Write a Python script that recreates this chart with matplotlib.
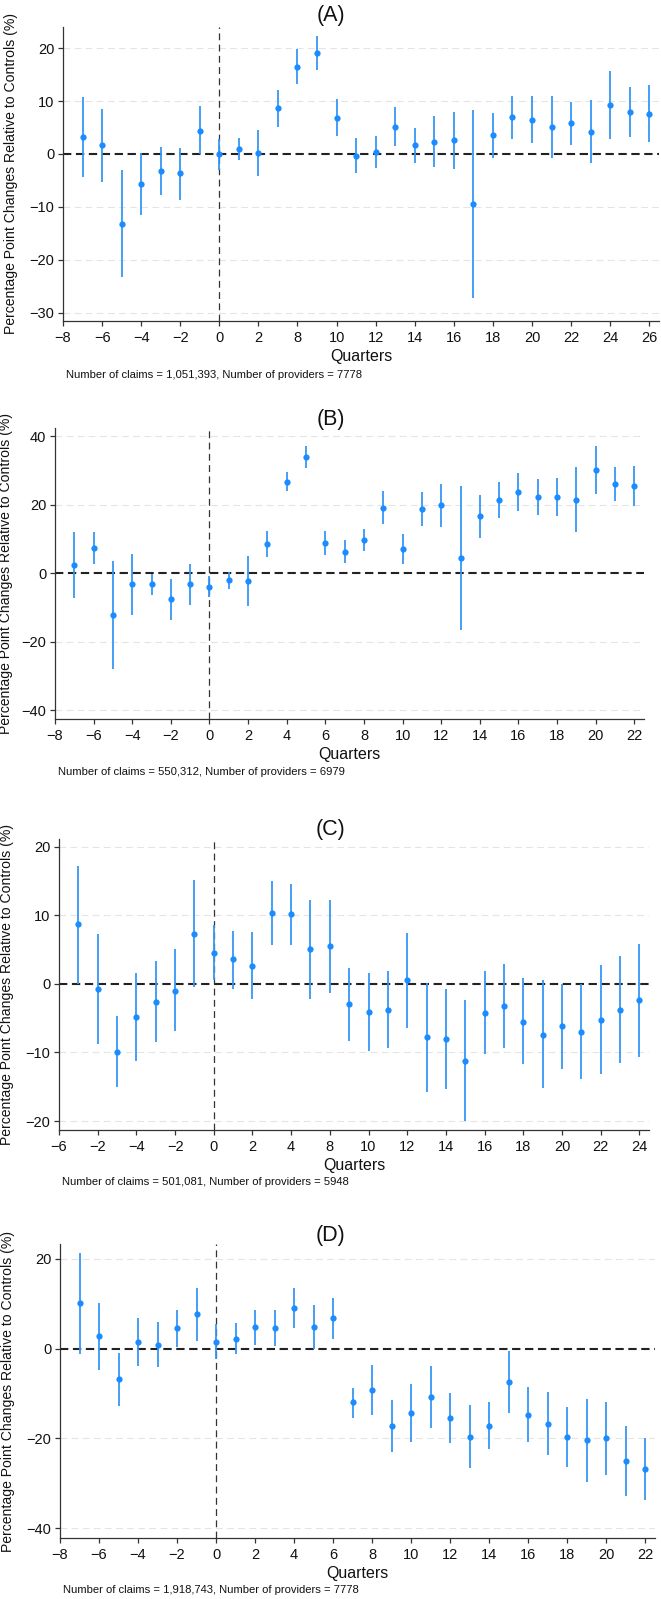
"""
Event-study coefficients, four panels (A)-(D)
=============================================
Point estimates with 95% CIs by quarter relative to treatment.
Output: out.png (661 x 1599)
"""
import numpy as np
import matplotlib.pyplot as plt

plt.rcParams["font.family"] = ["Liberation Sans", "DejaVu Sans"]

# ---------------------------------------------------------------------
# data
QUARTERS = list(range(-7, 23))

A_EST = [3.2, 1.6, -13.2, -5.6, -3.2, -3.7, 4.4, 0.0, 0.9, 0.1, 8.6, 16.5, 19.1,
         6.8, -0.4, 0.4, 5.1, 1.6, 2.3, 2.6, -9.5, 3.5, 6.9, 6.5, 5.1, 5.8,
         4.2, 9.2, 7.9, 7.6]
A_HI = [10.8, 8.4, -3.1, 0.2, 1.3, 1.1, 9.1, 2.9, 3.1, 4.6, 12.1, 19.8, 22.3,
        10.4, 3.0, 3.4, 8.8, 4.9, 7.2, 7.9, 8.3, 7.8, 11.0, 10.9, 10.9, 9.9,
        10.2, 15.6, 12.6, 13.0]
A_LO = [-4.4, -5.3, -23.2, -11.5, -7.8, -8.7, -0.1, -3.1, -1.2, -4.2, 5.1, 13.2,
        15.9, 3.3, -3.7, -2.7, 1.5, -1.7, -2.5, -2.8, -27.2, -0.7, 2.8, 2.1,
        -0.8, 1.6, -1.8, 2.8, 3.2, 2.2]

B_EST = [2.3, 7.3, -12.3, -3.3, -3.3, -7.6, -3.2, -3.9, -2.1, -2.3, 8.6, 26.7,
         34.0, 8.8, 6.3, 9.7, 19.1, 7.0, 18.7, 19.8, 4.5, 16.6, 21.4, 23.7,
         22.3, 22.3, 21.4, 30.1, 26.1, 25.4]
B_HI = [12.1, 12.0, 3.5, 5.6, -0.3, -1.7, 2.7, -0.7, 0.4, 5.0, 12.4, 29.5, 37.1,
        12.4, 9.6, 12.9, 23.9, 11.4, 23.7, 26.1, 25.6, 22.9, 26.6, 29.2, 27.5,
        27.9, 30.9, 37.0, 31.1, 31.2]
B_LO = [-7.4, 2.6, -28.0, -12.2, -6.3, -13.6, -9.2, -7.1, -4.6, -9.6, 4.8, 23.9,
        30.8, 5.2, 2.9, 6.5, 14.3, 2.6, 13.7, 13.6, -16.5, 10.3, 16.2, 18.1,
        17.1, 16.6, 11.9, 23.2, 21.0, 19.6]

C_EST = [8.7, -0.8, -9.9, -4.9, -2.6, -1.0, 7.3, 4.5, 3.6, 2.6, 10.3, 10.1, 5.0,
         5.5, -3.0, -4.1, -3.8, 0.5, -7.8, -8.1, -11.2, -4.2, -3.3, -5.5, -7.4,
         -6.2, -7.0, -5.3, -3.8, -2.4]
C_HI = [17.2, 7.3, -4.7, 1.6, 3.3, 5.0, 15.1, 8.6, 7.7, 7.5, 15.0, 14.6, 12.2,
        12.2, 2.3, 1.6, 1.9, 7.4, 0.1, -0.8, -2.4, 1.8, 2.9, 0.8, 0.5, 0.0,
        -0.0, 2.7, 4.0, 5.8]
C_LO = [0.0, -8.8, -15.1, -11.3, -8.5, -6.9, -0.5, 0.5, -0.7, -2.2, 5.6, 5.6,
        -2.2, -1.3, -8.3, -9.8, -9.4, -6.4, -15.8, -15.3, -20.0, -10.2, -9.4,
        -11.7, -15.2, -12.4, -13.8, -13.2, -11.5, -10.6]

D_EST = [10.1, 2.7, -6.8, 1.5, 0.8, 4.5, 7.6, 1.5, 2.2, 4.7, 4.6, 9.0, 4.7, 6.8,
         -12.0, -9.2, -17.2, -14.3, -10.7, -15.5, -19.6, -17.2, -7.4, -14.7,
         -16.7, -19.6, -20.4, -20.0, -25.1, -26.8]
D_HI = [21.3, 10.1, -0.9, 6.9, 5.9, 8.6, 13.6, 5.4, 5.7, 8.7, 8.6, 13.5, 9.6,
        11.3, -8.8, -3.6, -11.4, -7.8, -3.9, -9.9, -12.6, -12.0, -0.6, -8.6,
        -9.7, -13.0, -11.2, -11.9, -17.2, -19.9]
D_LO = [-1.2, -4.8, -12.7, -3.9, -4.2, 0.4, 1.6, -2.4, -1.2, 0.7, 0.6, 4.5,
        -0.1, 2.2, -15.4, -14.9, -23.1, -20.9, -17.6, -21.0, -26.5, -22.3,
        -14.3, -20.9, -23.6, -26.3, -29.7, -28.2, -32.9, -33.7]

XTICKS = list(range(-8, 23, 2))
# tick labels exactly as printed on the original panels
A_XTICKLABELS = ["−8", "−6", "−4", "−2", "0", "2", "8", "10", "12", "14", "16",
                 "18", "20", "22", "24", "26"]
B_XTICKLABELS = ["−8", "−6", "−4", "−2", "0", "2", "4", "6", "8", "10", "12",
                 "14", "16", "18", "20", "22"]
C_XTICKLABELS = ["−6", "−2", "−4", "−2", "0", "2", "4", "8", "10", "12", "14",
                 "16", "18", "20", "22", "24"]
D_XTICKLABELS = B_XTICKLABELS

TITLES = ["(A)", "(B)", "(C)", "(D)"]
NOTES = ["Number of claims = 1,051,393, Number of providers = 7778",
         "Number of claims = 550,312, Number of providers = 6979",
         "Number of claims = 501,081, Number of providers = 5948",
         "Number of claims = 1,918,743, Number of providers = 7778"]

# ---------------------------------------------------------------------
# layout, in pixels of the 661 x 1599 canvas: left, right, top, bottom
W, H = 661, 1599
BOXES = [(63, 659, 27, 321), (55, 644, 428, 719),
         (59, 649, 839, 1130), (60, 655, 1244, 1538)]
YLIMS = [(-31.6, 24.0), (-42.6, 42.4), (-21.3, 21.1), (-42.2, 23.3)]
YTICKS = [np.arange(-30, 21, 10), np.arange(-40, 41, 20),
          np.arange(-20, 21, 10), np.arange(-40, 21, 20)]
TITLE_Y = [15, 419, 829, 1235]
NOTE_Y = [375, 772, 1182, 1590]

DOT = "#1a8cff"
BAR = "#3596f7"
DASH = (0, (4, 2.2))

panels = [
    (A_EST, A_LO, A_HI, A_XTICKLABELS),
    (B_EST, B_LO, B_HI, B_XTICKLABELS),
    (C_EST, C_LO, C_HI, C_XTICKLABELS),
    (D_EST, D_LO, D_HI, D_XTICKLABELS),
]

fig = plt.figure(figsize=(W / 100, H / 100), dpi=100)

for i, (est, lo, hi, xlabs) in enumerate(panels):
    l, r, t, b = BOXES[i]
    ax = fig.add_axes([l / W, 1 - b / H, (r - l) / W, (b - t) / H])

    # reference lines + light dashed grid
    for yt in YTICKS[i]:
        if yt != 0:
            ax.axhline(yt, color="#e4e4e4", ls=(0, (6, 4)), lw=0.8, zorder=0)
    ax.axhline(0, color="#222222", ls=DASH, lw=1.5, zorder=1)
    ax.axvline(0, color="#333333", ls=(0, (5.5, 3.5)), lw=0.9, zorder=1)

    ax.vlines(QUARTERS, lo, hi, color=BAR, lw=1.3, zorder=2)
    ax.plot(QUARTERS, est, "o", color=DOT, ms=4.5, mec="none", zorder=3)

    ax.set_xlim(-8, 22.5)
    ax.set_ylim(*YLIMS[i])
    ax.set_yticks(YTICKS[i])
    ax.set_yticklabels([f"{v:d}".replace("-", "−") for v in YTICKS[i]])
    ax.set_xticks(XTICKS)
    ax.set_xticklabels(xlabs)
    ax.tick_params(labelsize=10.5, length=3.8, width=0.9, color="#333333",
                   labelcolor="#111111", pad=2.5)
    ax.tick_params(axis="x", pad=3.5)

    for s in ("top", "right"):
        ax.spines[s].set_visible(False)
    for s in ("left", "bottom"):
        ax.spines[s].set_color("#333333")
        ax.spines[s].set_linewidth(0.9)

    ax.set_xlabel("Quarters", fontsize=11.5, labelpad=2.5, color="#111111")
    ax.set_ylabel("Percentage Point Changes Relative to Controls (%)",
                  fontsize=10.1, color="#111111")
    # keep the rotated label clear of the canvas edge
    ax.yaxis.set_label_coords(-min(45, l - 13) / (r - l), 0.5)

    fig.text(0.5, 1 - TITLE_Y[i] / H, TITLES[i], ha="center", va="center",
             fontsize=15.5, color="#111111")
    fig.text((l + 3) / W, 1 - NOTE_Y[i] / H, NOTES[i], ha="left",
             va="center", fontsize=8.1, color="#111111")

fig.savefig("out.png", dpi=100)
print("Done.")
